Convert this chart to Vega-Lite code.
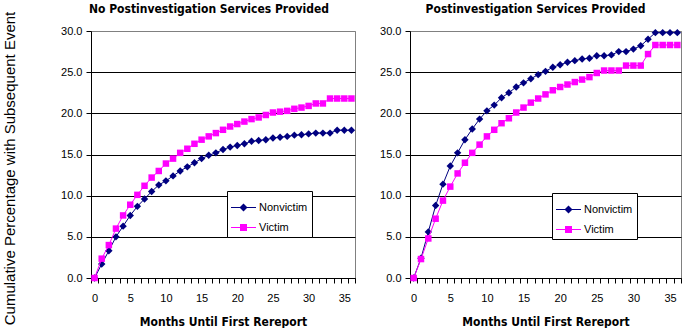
{
  "$schema": "https://vega.github.io/schema/vega-lite/v6.json",
  "padding": {"left": 1, "top": 2, "right": 0, "bottom": 0},
  "background": "white",
  "config": {
    "view": {"stroke": "#808080", "strokeWidth": 1},
    "axis": {"labelFont": "Liberation Sans", "labelFontSize": 11, "labelColor": "black", "domainColor": "black", "tickColor": "black", "tickSize": 5, "titleColor": "black"},
    "legend": {"strokeColor": "black", "fillColor": "white", "padding": 4, "labelFont": "Liberation Sans", "labelFontSize": 11, "labelColor": "black", "symbolStrokeWidth": 0, "symbolOpacity": 1, "rowPadding": 2, "labelOffset": 3, "symbolSize": 625},
    "title": {"font": "Liberation Sans Narrow, DejaVu Sans Condensed, sans-serif", "fontSize": 12, "fontWeight": "bold", "color": "black"}
  },
  "datasets": {
    "left": [
      {"series":"Nonvictim","month":0,"pct":0},{"series":"Nonvictim","month":1,"pct":1.7},{"series":"Nonvictim","month":2,"pct":3.3},{"series":"Nonvictim","month":3,"pct":5.0},{"series":"Nonvictim","month":4,"pct":6.3},{"series":"Nonvictim","month":5,"pct":7.6},{"series":"Nonvictim","month":6,"pct":8.7},{"series":"Nonvictim","month":7,"pct":9.6},{"series":"Nonvictim","month":8,"pct":10.5},{"series":"Nonvictim","month":9,"pct":11.3},{"series":"Nonvictim","month":10,"pct":11.8},{"series":"Nonvictim","month":11,"pct":12.4},{"series":"Nonvictim","month":12,"pct":13.0},{"series":"Nonvictim","month":13,"pct":13.5},{"series":"Nonvictim","month":14,"pct":14.0},{"series":"Nonvictim","month":15,"pct":14.5},{"series":"Nonvictim","month":16,"pct":14.9},{"series":"Nonvictim","month":17,"pct":15.2},{"series":"Nonvictim","month":18,"pct":15.6},{"series":"Nonvictim","month":19,"pct":15.9},{"series":"Nonvictim","month":20,"pct":16.1},{"series":"Nonvictim","month":21,"pct":16.3},{"series":"Nonvictim","month":22,"pct":16.6},{"series":"Nonvictim","month":23,"pct":16.7},{"series":"Nonvictim","month":24,"pct":16.8},{"series":"Nonvictim","month":25,"pct":17.0},{"series":"Nonvictim","month":26,"pct":17.1},{"series":"Nonvictim","month":27,"pct":17.2},{"series":"Nonvictim","month":28,"pct":17.35},{"series":"Nonvictim","month":29,"pct":17.4},{"series":"Nonvictim","month":30,"pct":17.5},{"series":"Nonvictim","month":31,"pct":17.6},{"series":"Nonvictim","month":32,"pct":17.6},{"series":"Nonvictim","month":33,"pct":17.6},{"series":"Nonvictim","month":34,"pct":17.95},{"series":"Nonvictim","month":35,"pct":17.95},{"series":"Nonvictim","month":36,"pct":17.95},
      {"series":"Victim","month":0,"pct":0},{"series":"Victim","month":1,"pct":2.35},{"series":"Victim","month":2,"pct":4.0},{"series":"Victim","month":3,"pct":6.0},{"series":"Victim","month":4,"pct":7.6},{"series":"Victim","month":5,"pct":8.9},{"series":"Victim","month":6,"pct":10.1},{"series":"Victim","month":7,"pct":11.2},{"series":"Victim","month":8,"pct":12.2},{"series":"Victim","month":9,"pct":13.0},{"series":"Victim","month":10,"pct":13.9},{"series":"Victim","month":11,"pct":14.5},{"series":"Victim","month":12,"pct":15.2},{"series":"Victim","month":13,"pct":15.7},{"series":"Victim","month":14,"pct":16.3},{"series":"Victim","month":15,"pct":16.8},{"series":"Victim","month":16,"pct":17.2},{"series":"Victim","month":17,"pct":17.6},{"series":"Victim","month":18,"pct":18.0},{"series":"Victim","month":19,"pct":18.4},{"series":"Victim","month":20,"pct":18.7},{"series":"Victim","month":21,"pct":19.0},{"series":"Victim","month":22,"pct":19.3},{"series":"Victim","month":23,"pct":19.5},{"series":"Victim","month":24,"pct":19.8},{"series":"Victim","month":25,"pct":20.1},{"series":"Victim","month":26,"pct":20.2},{"series":"Victim","month":27,"pct":20.3},{"series":"Victim","month":28,"pct":20.55},{"series":"Victim","month":29,"pct":20.7},{"series":"Victim","month":30,"pct":20.9},{"series":"Victim","month":31,"pct":21.2},{"series":"Victim","month":32,"pct":21.2},{"series":"Victim","month":33,"pct":21.8},{"series":"Victim","month":34,"pct":21.8},{"series":"Victim","month":35,"pct":21.8},{"series":"Victim","month":36,"pct":21.8}
    ],
    "right": [
      {"series":"Nonvictim","month":0,"pct":0},{"series":"Nonvictim","month":1,"pct":2.4},{"series":"Nonvictim","month":2,"pct":5.6},{"series":"Nonvictim","month":3,"pct":8.8},{"series":"Nonvictim","month":4,"pct":11.4},{"series":"Nonvictim","month":5,"pct":13.6},{"series":"Nonvictim","month":6,"pct":15.2},{"series":"Nonvictim","month":7,"pct":16.8},{"series":"Nonvictim","month":8,"pct":18.1},{"series":"Nonvictim","month":9,"pct":19.3},{"series":"Nonvictim","month":10,"pct":20.3},{"series":"Nonvictim","month":11,"pct":21.0},{"series":"Nonvictim","month":12,"pct":21.9},{"series":"Nonvictim","month":13,"pct":22.5},{"series":"Nonvictim","month":14,"pct":23.2},{"series":"Nonvictim","month":15,"pct":23.7},{"series":"Nonvictim","month":16,"pct":24.2},{"series":"Nonvictim","month":17,"pct":24.7},{"series":"Nonvictim","month":18,"pct":25.1},{"series":"Nonvictim","month":19,"pct":25.6},{"series":"Nonvictim","month":20,"pct":25.9},{"series":"Nonvictim","month":21,"pct":26.2},{"series":"Nonvictim","month":22,"pct":26.4},{"series":"Nonvictim","month":23,"pct":26.6},{"series":"Nonvictim","month":24,"pct":26.7},{"series":"Nonvictim","month":25,"pct":27.0},{"series":"Nonvictim","month":26,"pct":27.0},{"series":"Nonvictim","month":27,"pct":27.1},{"series":"Nonvictim","month":28,"pct":27.5},{"series":"Nonvictim","month":29,"pct":27.5},{"series":"Nonvictim","month":30,"pct":27.8},{"series":"Nonvictim","month":31,"pct":28.2},{"series":"Nonvictim","month":32,"pct":29.0},{"series":"Nonvictim","month":33,"pct":29.8},{"series":"Nonvictim","month":34,"pct":29.8},{"series":"Nonvictim","month":35,"pct":29.8},{"series":"Nonvictim","month":36,"pct":29.8},
      {"series":"Victim","month":0,"pct":0},{"series":"Victim","month":1,"pct":2.3},{"series":"Victim","month":2,"pct":4.8},{"series":"Victim","month":3,"pct":7.2},{"series":"Victim","month":4,"pct":9.4},{"series":"Victim","month":5,"pct":11.1},{"series":"Victim","month":6,"pct":12.7},{"series":"Victim","month":7,"pct":14.0},{"series":"Victim","month":8,"pct":15.2},{"series":"Victim","month":9,"pct":16.2},{"series":"Victim","month":10,"pct":17.2},{"series":"Victim","month":11,"pct":18.0},{"series":"Victim","month":12,"pct":18.8},{"series":"Victim","month":13,"pct":19.4},{"series":"Victim","month":14,"pct":20.1},{"series":"Victim","month":15,"pct":20.7},{"series":"Victim","month":16,"pct":21.3},{"series":"Victim","month":17,"pct":21.8},{"series":"Victim","month":18,"pct":22.3},{"series":"Victim","month":19,"pct":22.8},{"series":"Victim","month":20,"pct":23.2},{"series":"Victim","month":21,"pct":23.5},{"series":"Victim","month":22,"pct":23.8},{"series":"Victim","month":23,"pct":24.1},{"series":"Victim","month":24,"pct":24.4},{"series":"Victim","month":25,"pct":24.9},{"series":"Victim","month":26,"pct":25.2},{"series":"Victim","month":27,"pct":25.2},{"series":"Victim","month":28,"pct":25.2},{"series":"Victim","month":29,"pct":25.8},{"series":"Victim","month":30,"pct":25.8},{"series":"Victim","month":31,"pct":25.8},{"series":"Victim","month":32,"pct":27.2},{"series":"Victim","month":33,"pct":28.3},{"series":"Victim","month":34,"pct":28.3},{"series":"Victim","month":35,"pct":28.3},{"series":"Victim","month":36,"pct":28.3}
    ]
  },
  "hconcat": [
    {
      "width": 264,
      "height": 247,
      "title": {"text": "No Postinvestigation Services Provided", "dx": -14, "offset": -5},
      "data": {"name": "left"},
      "encoding": {
        "x": {"field": "month", "type": "quantitative", "scale": {"domain": [-0.5, 36.5], "nice": false, "zero": false},
          "axis": {"values": [-0.5,0.5,1.5,2.5,3.5,4.5,5.5,6.5,7.5,8.5,9.5,10.5,11.5,12.5,13.5,14.5,15.5,16.5,17.5,18.5,19.5,20.5,21.5,22.5,23.5,24.5,25.5,26.5,27.5,28.5,29.5,30.5,31.5,32.5,33.5,34.5,35.5,36.5],
            "labelExpr": "(datum.value + 0.5) % 5 == 0 ? format(datum.value + 0.5, 'd') : ''", "labelOffset": 3.57, "labelOverlap": false, "labelFlush": false, "labelBound": false, "labelPadding": 9, "grid": false,
            "title": "Months Until First Rereport", "titleFont": "Liberation Sans Narrow, DejaVu Sans Condensed, sans-serif", "titleFontSize": 12, "titleFontWeight": "bold", "titlePadding": 13}},
        "y": {"field": "pct", "type": "quantitative", "scale": {"domain": [0, 30], "nice": false},
          "axis": {"values": [0,5,10,15,20,25,30], "format": ".1f", "labelPadding": 4, "grid": true,
            "gridColor": {"condition": {"test": "datum.value == 30", "value": "#808080"}, "value": "black"},
            "title": "Cumulative Percentage with Subsequent Event", "titleFont": "Liberation Sans", "titleFontSize": 15, "titleFontWeight": "normal",
            "titleAngle": 270, "titleBaseline": "middle", "titleAlign": "center", "titleX": -82, "titleY": 137}}
      },
      "layer": [
        {"transform": [{"filter": "datum.series == 'Nonvictim'"}],
         "mark": {"type": "line", "color": "#000080", "strokeWidth": 1, "point": {"shape": "diamond", "size": 55, "filled": true, "color": "#000080"}}},
        {"transform": [{"filter": "datum.series == 'Victim'"}],
         "mark": {"type": "line", "color": "#FF00FF", "strokeWidth": 1, "point": {"shape": "square", "size": 42, "filled": true, "color": "#FF00FF"}}},
        {"transform": [{"filter": "datum.month < -10"}],
         "mark": {"type": "point", "filled": true},
         "encoding": {
           "color": {"field": "series", "type": "nominal", "scale": {"domain": ["Nonvictim", "Victim"], "range": ["#000080", "#FF00FF"]},
             "legend": {"title": null, "orient": "none", "legendX": 136, "legendY": 160}},
           "shape": {"field": "series", "type": "nominal", "scale": {"domain": ["Nonvictim", "Victim"], "range": ["M-1,-0.04L1,-0.04L1,0.04L-1,0.04Z M0,-0.32L0.32,0L0,0.32L-0.32,0Z", "M-1,-0.04L1,-0.04L1,0.04L-1,0.04Z M-0.28,-0.28L0.28,-0.28L0.28,0.28L-0.28,0.28Z"]},
             "legend": {"title": null, "orient": "none", "legendX": 136, "legendY": 160}}
         }}
      ]
    },
    {
      "width": 271,
      "height": 247,
      "title": {"text": "Postinvestigation Services Provided", "dx": -10, "offset": 9},
      "data": {"name": "right"},
      "encoding": {
        "x": {"field": "month", "type": "quantitative", "scale": {"domain": [-0.5, 36.5], "nice": false, "zero": false},
          "axis": {"values": [-0.5,0.5,1.5,2.5,3.5,4.5,5.5,6.5,7.5,8.5,9.5,10.5,11.5,12.5,13.5,14.5,15.5,16.5,17.5,18.5,19.5,20.5,21.5,22.5,23.5,24.5,25.5,26.5,27.5,28.5,29.5,30.5,31.5,32.5,33.5,34.5,35.5,36.5],
            "labelExpr": "(datum.value + 0.5) % 5 == 0 ? format(datum.value + 0.5, 'd') : ''", "labelOffset": 3.66, "labelOverlap": false, "labelFlush": false, "labelBound": false, "labelPadding": 9, "grid": false,
            "title": "Months Until First Rereport", "titleFont": "Liberation Sans Narrow, DejaVu Sans Condensed, sans-serif", "titleFontSize": 12, "titleFontWeight": "bold", "titlePadding": 13}},
        "y": {"field": "pct", "type": "quantitative", "scale": {"domain": [0, 30], "nice": false},
          "axis": {"values": [0,5,10,15,20,25,30], "format": ".1f", "labelPadding": 4, "grid": true,
            "gridColor": {"condition": {"test": "datum.value == 30", "value": "#808080"}, "value": "black"},
            "title": null}}
      },
      "layer": [
        {"transform": [{"filter": "datum.series == 'Nonvictim'"}],
         "mark": {"type": "line", "color": "#000080", "strokeWidth": 1, "point": {"shape": "diamond", "size": 55, "filled": true, "color": "#000080"}}},
        {"transform": [{"filter": "datum.series == 'Victim'"}],
         "mark": {"type": "line", "color": "#FF00FF", "strokeWidth": 1, "point": {"shape": "square", "size": 42, "filled": true, "color": "#FF00FF"}}},
        {"transform": [{"filter": "datum.month < -10"}],
         "mark": {"type": "point", "filled": true},
         "encoding": {
           "color": {"field": "series", "type": "nominal", "scale": {"domain": ["Nonvictim", "Victim"], "range": ["#000080", "#FF00FF"]},
             "legend": {"title": null, "orient": "none", "legendX": 142, "legendY": 162}},
           "shape": {"field": "series", "type": "nominal", "scale": {"domain": ["Nonvictim", "Victim"], "range": ["M-1,-0.04L1,-0.04L1,0.04L-1,0.04Z M0,-0.32L0.32,0L0,0.32L-0.32,0Z", "M-1,-0.04L1,-0.04L1,0.04L-1,0.04Z M-0.28,-0.28L0.28,-0.28L0.28,0.28L-0.28,0.28Z"]},
             "legend": {"title": null, "orient": "none", "legendX": 142, "legendY": 162}}
         }}
      ]
    }
  ],
  "spacing": 55,
  "bounds": "flush",
  "resolve": {"scale": {"color": "independent", "shape": "independent"}, "legend": {"color": "independent", "shape": "independent"}}
}
